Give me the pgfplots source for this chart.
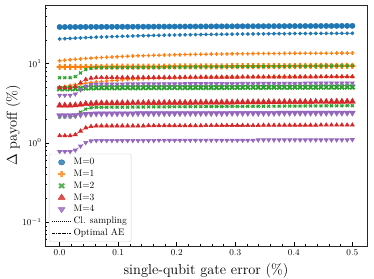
\documentclass[border=0pt]{standalone}
\usepackage{pgfplots}
\usepackage{pgfplotstable}
\pgfplotsset{compat=1.18}
\definecolor{tb}{HTML}{1F77B4}
\definecolor{to}{HTML}{FF7F0E}
\definecolor{tg}{HTML}{2CA02C}
\definecolor{tr}{HTML}{D62728}
\definecolor{tp}{HTML}{9467BD}
\pgfdeclareplotmark{Pfill}{%
  \pgfpathrectangle{\pgfpoint{-\pgfplotmarksize}{-0.34\pgfplotmarksize}}{\pgfpoint{2\pgfplotmarksize}{0.68\pgfplotmarksize}}%
  \pgfpathrectangle{\pgfpoint{-0.34\pgfplotmarksize}{-\pgfplotmarksize}}{\pgfpoint{0.68\pgfplotmarksize}{2\pgfplotmarksize}}%
  \pgfusepathqfill}
\pgfdeclareplotmark{Xfill}{%
  \pgftransformrotate{45}%
  \pgfpathrectangle{\pgfpoint{-1.05\pgfplotmarksize}{-0.32\pgfplotmarksize}}{\pgfpoint{2.1\pgfplotmarksize}{0.64\pgfplotmarksize}}%
  \pgfpathrectangle{\pgfpoint{-0.32\pgfplotmarksize}{-1.05\pgfplotmarksize}}{\pgfpoint{0.64\pgfplotmarksize}{2.1\pgfplotmarksize}}%
  \pgfusepathqfill}
\pgfplotstableread{
x B0 B1 Oup O0 Olo Gup G0 Glo Rup R0 Rlo Pup P0 Plo
0 29.00 20.50 10.90 9.10 5.00 6.65 4.83 2.13 4.97 2.97 1.23 3.99 2.22 0.776
0.0089 29.02 20.67 11.06 9.11 5.16 6.65 4.83 2.13 4.97 2.97 1.23 3.99 2.22 0.776
0.0179 29.04 20.84 11.21 9.11 5.31 6.65 4.83 2.13 4.97 2.97 1.23 3.99 2.22 0.776
0.0268 29.05 21.00 11.36 9.12 5.45 6.87 4.84 2.20 5.14 2.99 1.27 4.14 2.23 0.81
0.0357 29.07 21.15 11.49 9.12 5.57 7.64 4.89 2.44 5.73 3.05 1.41 4.67 2.27 0.91
0.0446 29.09 21.30 11.62 9.13 5.68 8.41 4.93 2.67 6.32 3.11 1.55 5.20 2.32 1.01
0.0536 29.11 21.44 11.74 9.13 5.79 8.75 4.95 2.78 6.58 3.13 1.61 5.45 2.33 1.06
0.0625 29.13 21.57 11.85 9.14 5.88 8.87 4.97 2.82 6.67 3.16 1.64 5.52 2.35 1.07
0.0714 29.14 21.70 11.96 9.14 5.97 8.89 4.97 2.82 6.68 3.17 1.64 5.53 2.35 1.07
0.0804 29.16 21.82 12.06 9.15 6.05 8.90 4.97 2.82 6.68 3.17 1.64 5.53 2.35 1.07
0.0893 29.18 21.94 12.16 9.15 6.12 8.91 4.97 2.83 6.69 3.17 1.64 5.54 2.35 1.07
0.0982 29.20 22.05 12.25 9.16 6.19 8.92 4.97 2.83 6.69 3.18 1.64 5.54 2.35 1.07
0.1071 29.21 22.16 12.33 9.16 6.25 8.93 4.98 2.83 6.69 3.18 1.64 5.54 2.35 1.07
0.1161 29.23 22.26 12.41 9.17 6.30 8.94 4.98 2.83 6.70 3.18 1.64 5.55 2.35 1.07
0.1250 29.25 22.36 12.48 9.18 6.36 8.95 4.98 2.84 6.70 3.19 1.64 5.55 2.35 1.07
0.1339 29.27 22.45 12.55 9.18 6.40 8.96 4.98 2.84 6.70 3.19 1.64 5.55 2.36 1.07
0.1429 29.29 22.54 12.62 9.19 6.44 8.97 4.98 2.84 6.71 3.19 1.64 5.56 2.36 1.07
0.1518 29.30 22.63 12.68 9.19 6.48 8.98 4.99 2.85 6.71 3.20 1.65 5.56 2.36 1.07
0.1607 29.32 22.71 12.74 9.20 6.52 8.99 4.99 2.85 6.71 3.20 1.65 5.56 2.36 1.07
0.1696 29.34 22.79 12.80 9.20 6.55 9.00 4.99 2.85 6.72 3.20 1.65 5.57 2.36 1.08
0.1786 29.36 22.86 12.85 9.21 6.58 9.01 4.99 2.85 6.72 3.21 1.65 5.57 2.36 1.08
0.1875 29.38 22.93 12.90 9.21 6.61 9.02 5.00 2.86 6.72 3.21 1.65 5.57 2.36 1.08
0.1964 29.39 23.00 12.94 9.22 6.63 9.04 5.00 2.86 6.73 3.21 1.65 5.58 2.36 1.08
0.2054 29.41 23.07 12.99 9.22 6.66 9.05 5.00 2.86 6.73 3.22 1.65 5.58 2.36 1.08
0.2143 29.43 23.13 13.03 9.23 6.68 9.06 5.00 2.86 6.74 3.22 1.65 5.59 2.37 1.08
0.2232 29.45 23.19 13.07 9.23 6.70 9.07 5.00 2.87 6.74 3.22 1.65 5.59 2.37 1.08
0.2321 29.46 23.25 13.10 9.24 6.71 9.08 5.01 2.87 6.74 3.23 1.65 5.59 2.37 1.08
0.2411 29.48 23.30 13.14 9.24 6.73 9.09 5.01 2.87 6.75 3.23 1.65 5.60 2.37 1.08
0.2500 29.50 23.35 13.17 9.25 6.74 9.10 5.01 2.88 6.75 3.24 1.66 5.60 2.37 1.08
0.2589 29.52 23.40 13.20 9.26 6.76 9.11 5.01 2.88 6.75 3.24 1.66 5.60 2.37 1.08
0.2679 29.54 23.45 13.23 9.26 6.77 9.12 5.01 2.88 6.76 3.24 1.66 5.61 2.37 1.08
0.2768 29.55 23.50 13.26 9.27 6.78 9.13 5.02 2.88 6.76 3.25 1.66 5.61 2.37 1.08
0.2857 29.57 23.54 13.28 9.27 6.79 9.14 5.02 2.89 6.76 3.25 1.66 5.61 2.37 1.08
0.2946 29.59 23.58 13.31 9.28 6.80 9.15 5.02 2.89 6.77 3.25 1.66 5.62 2.38 1.08
0.3036 29.61 23.62 13.33 9.28 6.81 9.16 5.02 2.89 6.77 3.26 1.66 5.62 2.38 1.08
0.3125 29.63 23.66 13.35 9.29 6.82 9.17 5.02 2.89 6.78 3.26 1.66 5.63 2.38 1.08
0.3214 29.64 23.70 13.37 9.29 6.82 9.19 5.03 2.90 6.78 3.26 1.66 5.63 2.38 1.08
0.3304 29.66 23.73 13.39 9.30 6.83 9.20 5.03 2.90 6.78 3.27 1.66 5.63 2.38 1.08
0.3393 29.68 23.77 13.41 9.30 6.84 9.21 5.03 2.90 6.79 3.27 1.66 5.64 2.38 1.09
0.3482 29.70 23.80 13.43 9.31 6.84 9.22 5.03 2.90 6.79 3.27 1.67 5.64 2.38 1.09
0.3571 29.71 23.83 13.44 9.31 6.85 9.23 5.04 2.91 6.79 3.28 1.67 5.64 2.38 1.09
0.3661 29.73 23.86 13.46 9.32 6.85 9.24 5.04 2.91 6.80 3.28 1.67 5.65 2.38 1.09
0.3750 29.75 23.89 13.47 9.32 6.86 9.25 5.04 2.91 6.80 3.28 1.67 5.65 2.39 1.09
0.3839 29.77 23.91 13.48 9.33 6.86 9.26 5.04 2.92 6.80 3.29 1.67 5.65 2.39 1.09
0.3929 29.79 23.94 13.50 9.34 6.86 9.27 5.04 2.92 6.81 3.29 1.67 5.66 2.39 1.09
0.4018 29.80 23.96 13.51 9.34 6.87 9.28 5.05 2.92 6.81 3.29 1.67 5.66 2.39 1.09
0.4107 29.82 23.99 13.52 9.35 6.87 9.29 5.05 2.92 6.81 3.30 1.67 5.66 2.39 1.09
0.4196 29.84 24.01 13.53 9.35 6.87 9.30 5.05 2.93 6.82 3.30 1.67 5.67 2.39 1.09
0.4286 29.86 24.03 13.54 9.36 6.88 9.31 5.05 2.93 6.82 3.30 1.67 5.67 2.39 1.09
0.4375 29.88 24.05 13.55 9.36 6.88 9.32 5.05 2.93 6.82 3.31 1.67 5.67 2.39 1.09
0.4464 29.89 24.07 13.56 9.37 6.88 9.34 5.06 2.93 6.83 3.31 1.68 5.68 2.39 1.09
0.4554 29.91 24.09 13.57 9.37 6.88 9.35 5.06 2.94 6.83 3.31 1.68 5.68 2.39 1.09
0.4643 29.93 24.11 13.57 9.38 6.89 9.36 5.06 2.94 6.84 3.32 1.68 5.69 2.40 1.09
0.4732 29.95 24.12 13.58 9.38 6.89 9.37 5.06 2.94 6.84 3.32 1.68 5.69 2.40 1.09
0.4821 29.96 24.14 13.59 9.39 6.89 9.38 5.07 2.94 6.84 3.32 1.68 5.69 2.40 1.09
0.4911 29.98 24.16 13.59 9.39 6.89 9.39 5.07 2.95 6.85 3.33 1.68 5.70 2.40 1.09
0.5000 30.00 24.17 13.60 9.40 6.89 9.40 5.07 2.95 6.85 3.33 1.68 5.70 2.40 1.10
}\data
\pgfplotsset{
  big/.style={only marks, mark size=2.7pt, forget plot},
  cls/.style={line width=0.6pt, dash pattern=on 0.8pt off 1.2pt, mark size=1.6pt, mark options={solid}, forget plot},
  oae/.style={line width=0.6pt, dash pattern=on 3pt off 1pt on 0.7pt off 1pt, mark size=1.6pt, mark options={solid}, forget plot},
}
\begin{document}
\begin{tikzpicture}
\begin{axis}[
  scale only axis,
  width=322bp, height=241bp,
  xmin=-0.025, xmax=0.525,
  ymode=log, ymin=0.05, ymax=55,
  xtick={0,0.1,0.2,0.3,0.4,0.5},
  minor x tick num=4,
  xticklabel style={/pgf/number format/.cd, fixed, fixed zerofill, precision=1},
  tick align=inside,
  xtick pos=bottom, ytick pos=left,
  major tick length=4pt, minor tick length=2.3pt,
  tick style={black, line width=0.5pt},
  axis line style={line width=0.6pt, black!85},
  tick label style={font=\fontsize{8.7}{10}\selectfont},
  xlabel={single-qubit gate error (\%)},
  ylabel={$\Delta$ payoff (\%)},
  label style={font=\fontsize{14.5}{16}\selectfont},
  xlabel style={at={(axis description cs:0.5,0)}, anchor=north, yshift=-14bp},
  ylabel style={at={(axis description cs:0,0.5)}, anchor=south, yshift=21bp},
  legend style={at={(axis description cs:0.012,0.017)}, anchor=south west,
    draw=black!18, rounded corners=2pt, fill=white, fill opacity=0.8, text opacity=1,
    font=\fontsize{9.5}{10}\selectfont, inner sep=2.5pt,
    nodes={inner sep=1.9pt}, row sep=0pt},
  legend cell align=left,
  legend image post style={xscale=1.15},
]
% M=0
\addplot[big, tb, mark=*] table[x=x,y=B0] {\data};
\addplot[oae, tb, mark=*] table[x=x,y=B1] {\data};
% M=1
\addplot[big, to, mark=Pfill, mark size=3pt] table[x=x,y=O0] {\data};
\addplot[cls, to, mark=Pfill, mark size=1.9pt] table[x=x,y=Oup] {\data};
\addplot[oae, to, mark=Pfill, mark size=1.9pt] table[x=x,y=Olo] {\data};
% M=2
\addplot[big, tg, mark=Xfill, mark size=3pt] table[x=x,y=G0] {\data};
\addplot[cls, tg, mark=Xfill, mark size=1.9pt] table[x=x,y=Gup] {\data};
\addplot[oae, tg, mark=Xfill, mark size=1.9pt] table[x=x,y=Glo] {\data};
% M=3
\addplot[big, tr, mark=triangle*, mark size=3.5pt] table[x=x,y=R0] {\data};
\addplot[cls, tr, mark=triangle*, mark size=2.3pt] table[x=x,y=Rup] {\data};
\addplot[oae, tr, mark=triangle*, mark size=2.3pt] table[x=x,y=Rlo] {\data};
% M=4
\addplot[big, tp, mark=triangle*, mark size=3.5pt, mark options={rotate=180}] table[x=x,y=P0] {\data};
\addplot[cls, tp, mark=triangle*, mark size=2.3pt, mark options={solid, rotate=180}] table[x=x,y=Pup] {\data};
\addplot[oae, tp, mark=triangle*, mark size=2.3pt, mark options={solid, rotate=180}] table[x=x,y=Plo] {\data};
% legend
\addlegendimage{only marks, tb, mark=*, mark size=2.7pt}
\addlegendentry{M=0}
\addlegendimage{only marks, to, mark=Pfill, mark size=3pt}
\addlegendentry{M=1}
\addlegendimage{only marks, tg, mark=Xfill, mark size=3pt}
\addlegendentry{M=2}
\addlegendimage{only marks, tr, mark=triangle*, mark size=3.5pt}
\addlegendentry{M=3}
\addlegendimage{only marks, tp, mark=triangle*, mark size=3.5pt, mark options={rotate=180}}
\addlegendentry{M=4}
\addlegendimage{black, line width=0.6pt, dash pattern=on 0.8pt off 1.2pt}
\addlegendentry{Cl. sampling}
\addlegendimage{black, line width=0.6pt, dash pattern=on 3pt off 1pt on 0.7pt off 1pt}
\addlegendentry{Optimal AE}
\end{axis}
\pgfresetboundingbox
\path (current axis.south west) ++(-45bp,-33bp) rectangle ++(374bp,279bp);
\end{tikzpicture}
\end{document}
